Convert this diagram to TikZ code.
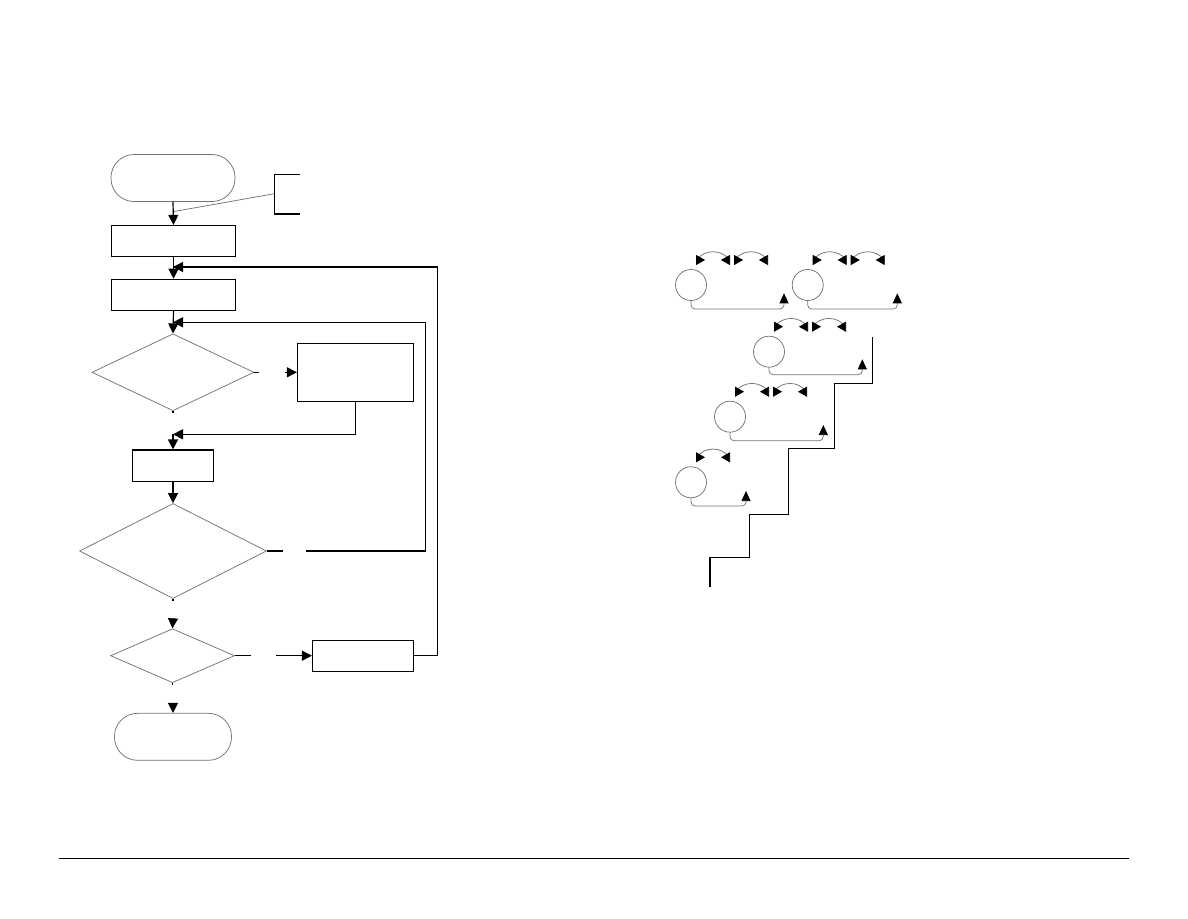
\documentclass[tikz,border=0pt]{standalone}
\usetikzlibrary{arrows.meta,shapes.geometric}
\begin{document}
\begin{tikzpicture}[x=1pt,y=-1pt,
  blk/.style={draw=black, line width=1.2pt},
  gry/.style={draw=black!55, line width=0.75pt},
  boxn/.style={rectangle, blk, inner sep=0pt},
  term/.style={rectangle, gry, inner sep=0pt, rounded corners=23pt},
  dia/.style={diamond, gry, inner sep=0pt},
  arr/.style={blk, -{Triangle[length=10pt,width=10pt]}},
  ln/.style={blk},
  circ/.style={circle, gry, inner sep=0pt, minimum size=31pt},
  loopln/.style={gry, rounded corners=4pt, -{Triangle[length=10pt,width=9pt,black]}},
  swap/.style={gry, {Triangle[length=9pt,width=10pt,reversed,black]}-{Triangle[length=9pt,width=10pt,reversed,black]}}
]
\useasboundingbox (0,0) rectangle (1188,918);

% ---------- flowchart ----------
\node[term, minimum width=124pt, minimum height=47pt] (start) at (173,178) {};
\node[boxn, minimum width=124pt, minimum height=31pt] (b1) at (173.5,241) {};
\node[boxn, minimum width=124pt, minimum height=31pt] (b2) at (173.5,294.8) {};
\node[dia, minimum width=162pt, minimum height=77pt] (d1) at (173,372.3) {};
\node[boxn, minimum width=116pt, minimum height=58pt] (b3) at (355.5,372.3) {};
\node[boxn, minimum width=81pt, minimum height=31.5pt] (b4) at (173,465.8) {};
\node[dia, minimum width=187pt, minimum height=95pt] (d2) at (173,551) {};
\node[dia, minimum width=124pt, minimum height=54pt] (d3) at (172.5,655.7) {};
\node[boxn, minimum width=101pt, minimum height=31pt] (b5) at (363,655.7) {};
\node[term, minimum width=117pt, minimum height=47pt] (end) at (173,736.8) {};

% annotation bracket
\coordinate (ann) at (274.3,193.7);
\coordinate (annj) at (173,211.7);
\draw[ln] (300,174.3) -- (274.3,174.3) -- (274.3,214) -- (300,214);
\draw[gry] (ann) -- (annj);

\draw[arr] (start.south) -- (b1.north);
\draw[arr] (b1.south) -- (b2.north);
\draw[arr] (b2.south) -- (d1.north);

% loop 1 (outer)
\coordinate (j1) at (173,267);
\draw[arr] (b5.east) -- (437.7,655.7) |- (j1);
% loop 2 (inner)
\coordinate (j2) at (173,322.3);
\coordinate (d2r) at (282.7,551);
\coordinate (d2r2) at (306,551);
\draw[ln] (d2.east) -- (d2r);
\draw[arr] (d2r2) -- (425.7,551) |- (j2);

% d1 -> b3
\coordinate (d1r) at (259,372.3);
\coordinate (d1r2) at (285,372.3);
\draw[ln] (d1.east) -- (d1r);
\draw[arr] (d1r2) -- (b3.west);
% b3 -> back
\coordinate (j3) at (173,434.3);
\draw[arr] (b3.south) |- (j3);
\draw[ln] (d1.south) -- ++(0,2);
\draw[arr] (j3) -- (b4.north);
\draw[arr] (b4.south) -- (d2.north);

% d2 -> d3
\draw[ln] (d2.south) -- ++(0,2);
\coordinate (d2s) at (173,618);
\draw[arr] (d2s) -- (d3.north);

% d3 -> b5
\coordinate (d3r) at (251,655.7);
\coordinate (d3r2) at (276,655.7);
\draw[ln] (d3.east) -- (d3r);
\draw[arr] (d3r2) -- (b5.west);

% d3 -> end
\draw[ln] (d3.south) -- ++(0,2);
\coordinate (d3s) at (173,703);
\draw[arr] (d3s) -- (end.north);

% ---------- right figure ----------
\node[circ] (c1) at (691,285) {};
\node[circ] (c2) at (807.7,285) {};
\node[circ] (c3) at (769,351.7) {};
\node[circ] (c4) at (730,416.7) {};
\node[circ] (c5) at (691,482.3) {};

\coordinate (t1) at (784,293.3);
\coordinate (t2) at (897.3,293.3);
\coordinate (t3) at (862.3,359.3);
\coordinate (t4) at (823.3,425);
\coordinate (t5) at (746,491);

\draw[loopln] (c1.south) -- (c1.south |- 0,309) -| (t1);
\draw[loopln] (c2.south) -- (c2.south |- 0,309) -| (t2);
\draw[loopln] (c3.south) -- (c3.south |- 0,374.7) -| (t3);
\draw[loopln] (c4.south) -- (c4.south |- 0,440.7) -| (t4);
\draw[loopln] (c5.south) -- (c5.south |- 0,506) -| (t5);

% swap arcs
\foreach \cx/\cy/\n in {691/285/2, 807.7/285/2, 769/351.7/2, 730/416.7/2, 691/482.3/1}{
  \draw[swap] (\cx+5,\cy-25) -- ++(0.5,0) .. controls +(8,-11) and +(-8,-11) .. (\cx+38.5,\cy-25) -- ++(0.5,0);
  \ifnum\n=2
    \draw[swap] (\cx+43,\cy-25) -- ++(0.5,0) .. controls +(8,-11) and +(-8,-11) .. (\cx+76.5,\cy-25) -- ++(0.5,0);
  \fi
}

% staircase
\draw[ln] (872.3,336.7) -- (872.3,383.3) -- (834.3,383.3) -- (834.3,448.3)
  -- (788.3,448.3) -- (788.3,514.3) -- (749.3,514.3) -- (749.3,557.3)
  -- (710,557.3) -- (710,587.3);

% bottom rule
\draw[draw=black, line width=1pt] (59,858) -- (1129,858);
\end{tikzpicture}
\end{document}
